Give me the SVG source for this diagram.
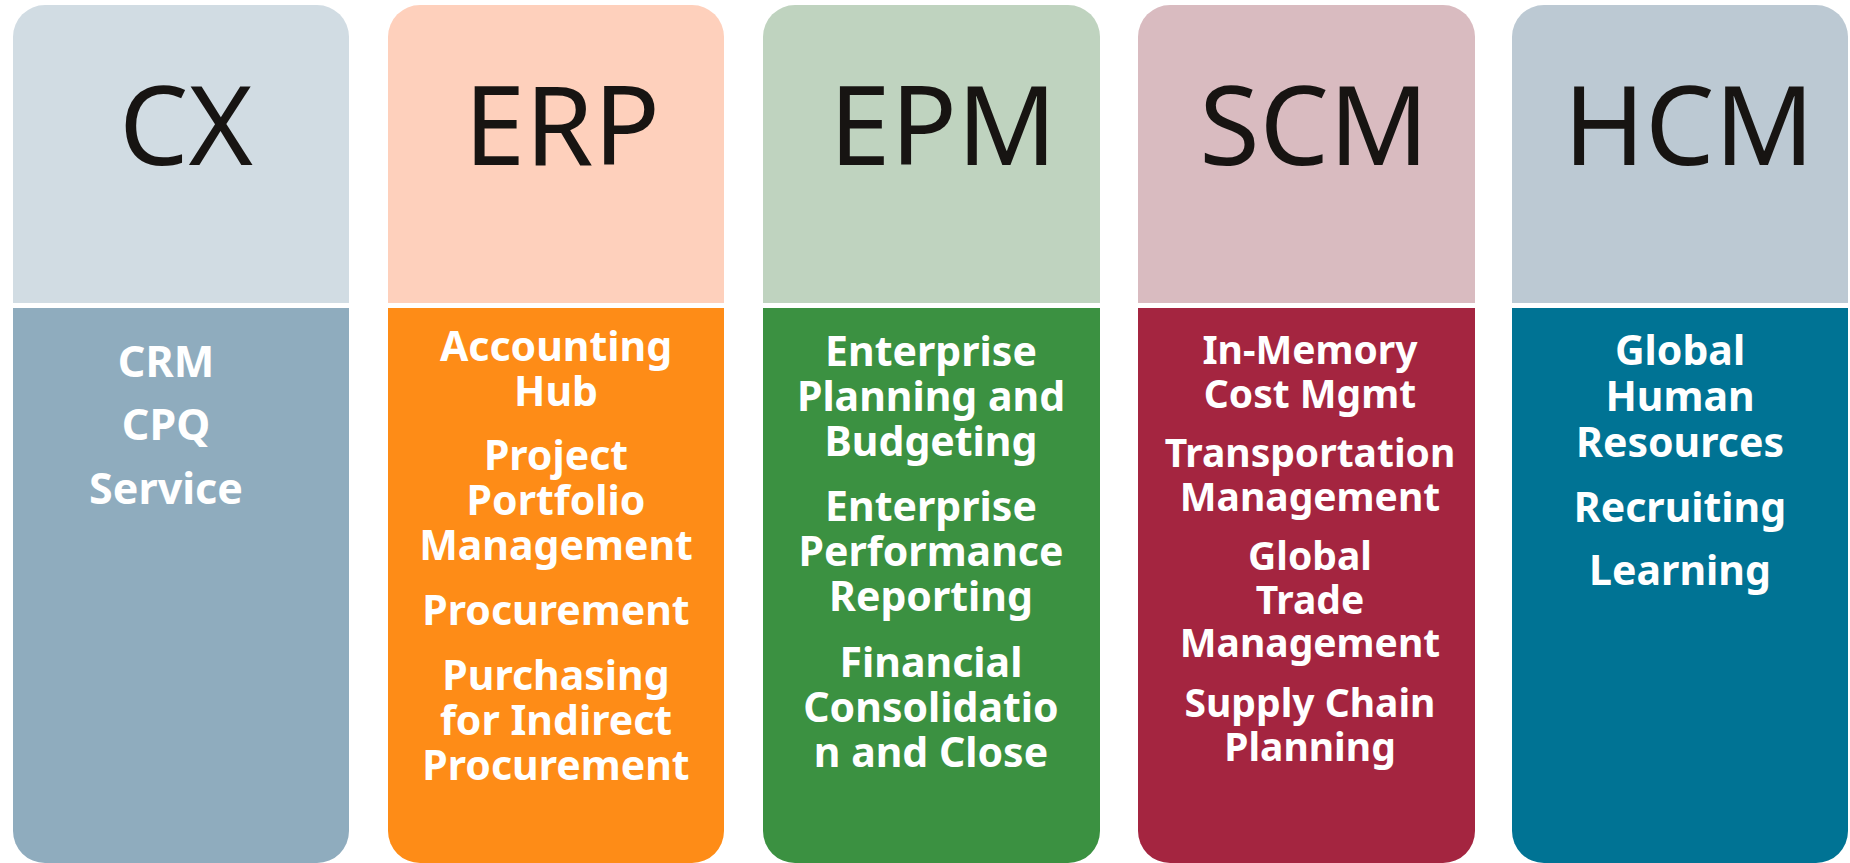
<svg xmlns="http://www.w3.org/2000/svg" width="1850" height="863" viewBox="0 0 1850 863">
<style>
.hd{font-family:"Noto Sans","Open Sans",sans-serif;font-size:110px;fill:#171412;text-anchor:middle}
.bd{font-family:"Noto Sans","Open Sans",sans-serif;font-weight:bold;font-size:41px;fill:#ffffff;text-anchor:middle}
.sm{font-size:39px}
.lg{font-size:43px}
</style>
<rect width="1850" height="863" fill="#ffffff"/>
<g id="cx">
<path d="M13 303V37A32 32 0 0 1 45 5H317A32 32 0 0 1 349 37V303Z" fill="#D1DCE3"/>
<path d="M13 308H349V831A32 32 0 0 1 317 863H45A32 32 0 0 1 13 831Z" fill="#8FACBE"/>
<text class="hd" x="186" y="165">CX</text>
<text class="bd lg" x="166" y="377">CRM</text>
<text class="bd lg" x="166" y="440">CPQ</text>
<text class="bd lg" x="166" y="504">Service</text>
</g>
<g id="erp">
<path d="M388 303V37A32 32 0 0 1 420 5H692A32 32 0 0 1 724 37V303Z" fill="#FED0BC"/>
<path d="M388 308H724V831A32 32 0 0 1 692 863H420A32 32 0 0 1 388 831Z" fill="#FE8C17"/>
<text class="hd" x="562" y="165">ERP</text>
<text class="bd" x="556" y="361">Accounting</text>
<text class="bd" x="556" y="406">Hub</text>
<text class="bd" x="556" y="470">Project</text>
<text class="bd" x="556" y="515">Portfolio</text>
<text class="bd" x="556" y="560">Management</text>
<text class="bd" x="556" y="625">Procurement</text>
<text class="bd" x="556" y="690">Purchasing</text>
<text class="bd" x="556" y="735">for Indirect</text>
<text class="bd" x="556" y="780">Procurement</text>
</g>
<g id="epm">
<path d="M763 303V37A32 32 0 0 1 795 5H1068A32 32 0 0 1 1100 37V303Z" fill="#BFD3BF"/>
<path d="M763 308H1100V831A32 32 0 0 1 1068 863H795A32 32 0 0 1 763 831Z" fill="#3B9141"/>
<text class="hd" x="943" y="165">EPM</text>
<text class="bd" x="931" y="366">Enterprise</text>
<text class="bd" x="931" y="411">Planning and</text>
<text class="bd" x="931" y="456">Budgeting</text>
<text class="bd" x="931" y="521">Enterprise</text>
<text class="bd" x="931" y="566">Performance</text>
<text class="bd" x="931" y="611">Reporting</text>
<text class="bd" x="931" y="677">Financial</text>
<text class="bd" x="931" y="722">Consolidatio</text>
<text class="bd" x="931" y="767">n and Close</text>
</g>
<g id="scm">
<path d="M1138 303V37A32 32 0 0 1 1170 5H1443A32 32 0 0 1 1475 37V303Z" fill="#D9BBC0"/>
<path d="M1138 308H1475V831A32 32 0 0 1 1443 863H1170A32 32 0 0 1 1138 831Z" fill="#A42540"/>
<text class="hd" x="1314" y="165">SCM</text>
<text class="bd sm" x="1310" y="364">In-Memory</text>
<text class="bd sm" x="1310" y="408">Cost Mgmt</text>
<text class="bd sm" x="1310" y="467">Transportation</text>
<text class="bd sm" x="1310" y="511">Management</text>
<text class="bd sm" x="1310" y="570">Global</text>
<text class="bd sm" x="1310" y="614">Trade</text>
<text class="bd sm" x="1310" y="657">Management</text>
<text class="bd sm" x="1310" y="717">Supply Chain</text>
<text class="bd sm" x="1310" y="761">Planning</text>
</g>
<g id="hcm">
<path d="M1512 303V37A32 32 0 0 1 1544 5H1816A32 32 0 0 1 1848 37V303Z" fill="#BCC9D3"/>
<path d="M1512 308H1848V831A32 32 0 0 1 1816 863H1544A32 32 0 0 1 1512 831Z" fill="#007394"/>
<text class="hd" x="1689" y="165">HCM</text>
<text class="bd" x="1680" y="365">Global</text>
<text class="bd" x="1680" y="411">Human</text>
<text class="bd" x="1680" y="457">Resources</text>
<text class="bd" x="1680" y="522">Recruiting</text>
<text class="bd" x="1680" y="585">Learning</text>
</g>
<g id="connectors"/>
</svg>
